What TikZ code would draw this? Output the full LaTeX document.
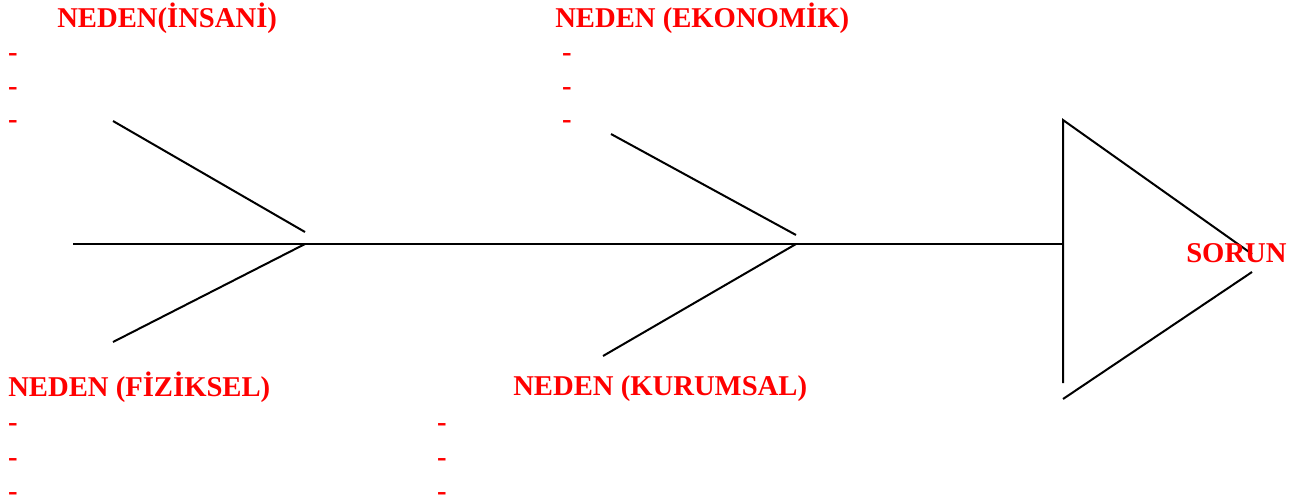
\documentclass[tikz,border=0pt]{standalone}
\usepackage{fontspec}
\setmainfont{Liberation Serif}
\begin{document}
\begin{tikzpicture}[x=0.75pt,y=-0.75pt,
    neden/.style={text=red,font=\fontsize{21.5}{24}\selectfont\bfseries,inner sep=0pt,anchor=base west},
    madde/.style={text=red,font=\fontsize{21.5}{24}\selectfont\bfseries,inner sep=0pt},
    kemik/.style={line width=1.5pt}]
        \useasboundingbox (0,0) rectangle (1299,501);
        % ana omurga
        \coordinate (bas) at (73,244);
        \coordinate (k1) at (305,244);
        \coordinate (k2) at (796,244);
        \coordinate (kafa) at (1063,244);
        \draw[kemik] (bas) -- (k1) -- (k2) -- (kafa);
        % kilcik 1
        \coordinate (k1u) at (113,121);
        \coordinate (k1ue) at (305,232);
        \coordinate (k1a) at (113,342);
        \draw[kemik] (k1u) -- (k1ue);
        \draw[kemik] (k1) -- (k1a);
        % kilcik 2
        \coordinate (k2u) at (611,134);
        \coordinate (k2ue) at (796,235);
        \coordinate (k2a) at (603,356);
        \draw[kemik] (k2u) -- (k2ue);
        \draw[kemik] (k2) -- (k2a);
        % bas ucgen
        \coordinate (u1) at (1063,120);
        \coordinate (u2) at (1063,383);
        \coordinate (u3) at (1252,254);
        \coordinate (u4) at (1252,272);
        \coordinate (u5) at (1063,399);
        \draw[kemik] (u2) -- (u1) -- (u3);
        \draw[kemik] (u4) -- (u5);
        % basliklar
        \node[neden] (insani) at (57,27) {NEDEN(İNSANİ)};
        \node[neden] (ekonomik) at (555,27) {NEDEN (EKONOMİK)};
        \node[neden] (fiziksel) at (8,396) {NEDEN (FİZİKSEL)};
        \node[neden] (kurumsal) at (513,395) {NEDEN (KURUMSAL)};
        \node[neden] (sorun) at (1186,262) {SORUN};
        % maddeler
        \foreach \y [count=\i] in {58,92,125} {
            \node[madde] (ia\i) at (13,\y) {-};
            \node[madde] (ea\i) at (567,\y) {-};
        }
        \foreach \y [count=\i] in {428,463,497} {
            \node[madde] (fa\i) at (13,\y) {-};
            \node[madde] (ka\i) at (442,\y) {-};
        }
    \end{tikzpicture}
\end{document}
